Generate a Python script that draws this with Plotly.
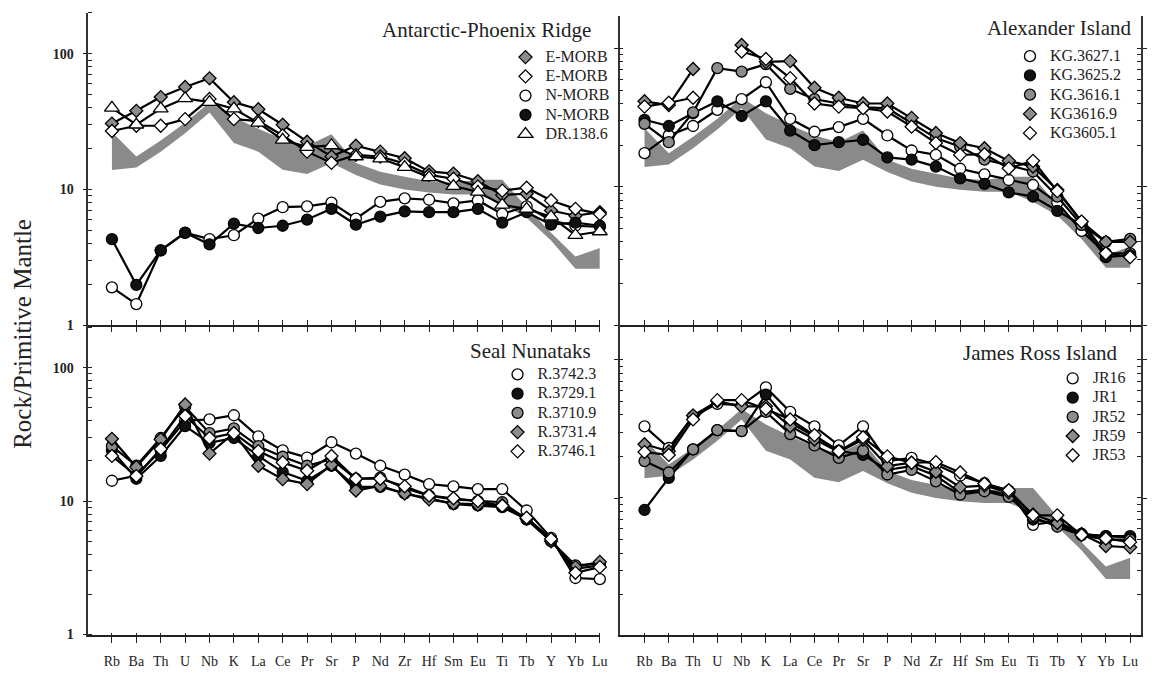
import plotly.graph_objects as go

W, H = 1158, 679

ELEMENTS = ["Rb", "Ba", "Th", "U", "Nb", "K", "La", "Ce", "Pr", "Sr", "P",
            "Nd", "Zr", "Hf", "Sm", "Eu", "Ti", "Tb", "Y", "Yb", "Lu"]
POS = list(range(len(ELEMENTS)))

# Reference field (shaded envelope)
FIELD_UPPER = [26.5, 17.5, 23.0, 31.0, 44.0, 34.0, 28.0, 23.5, 21.0, 25.5, 15.7,
               13.5, 12.4, 11.5, 11.2, 11.8, 11.8, 7.4, 4.8, 3.2, 3.7]
FIELD_LOWER = [13.9, 14.5, 19.0, 26.0, 37.0, 22.0, 19.0, 14.0, 13.0, 15.7, 12.8,
               10.9, 10.0, 9.5, 9.2, 9.2, 7.8, 6.2, 4.2, 2.6, 2.6]

# Antarctic-Phoenix Ridge
APR_EMORB_A = [30.6, 38.0, 48.0, 57.0, 66.0, 44.0, 39.0, 30.0, 22.5, 17.5, 21.0,
               19.0, 17.0, 13.6, 13.1, 11.5, 9.1, 9.3, 7.0, 6.4, 6.8]
APR_EMORB_B = [27.0, 29.5, 29.5, 33.0, 46.5, 33.0, 32.0, 25.0, 19.0, 15.7, 18.0,
               17.5, 15.5, 12.8, 12.0, 10.5, 9.8, 10.3, 8.3, 7.2, 6.6]
APR_NMORB_A = [1.9, 1.43, 3.56, 4.8, 4.3, 4.6, 6.1, 7.4, 7.5, 8.0, 6.1,
               8.1, 8.6, 8.4, 7.9, 8.3, 6.6, 7.5, 5.9, 5.4, 5.3]
APR_NMORB_B = [4.3, 1.98, 3.56, 4.79, 3.94, 5.6, 5.2, 5.4, 6.0, 7.2, 5.5,
               6.3, 6.9, 6.8, 6.8, 7.2, 5.7, 6.8, 5.5, 5.7, 5.4]
APR_DR1386 = [40.0, 30.0, 39.4, 47.0, 44.0, 39.4, 31.0, 23.2, 20.5, 21.1, 17.5,
              16.9, 14.6, 12.3, 10.6, 9.6, 7.7, 7.2, 6.3, 4.6, 4.9]

# Alexander Island
AI_KG36271 = [17.5, 23.5, 27.5, 36.0, 43.0, 57.0, 31.0, 25.0, 27.0, 31.0, 23.5,
              18.3, 17.0, 13.5, 12.3, 11.2, 10.3, 7.7, 4.8, 3.3, 3.3]
AI_KG36252 = [30.5, 27.5, 34.0, 41.5, 32.5, 41.5, 25.5, 20.0, 21.0, 21.8, 16.3,
              15.7, 14.0, 11.5, 10.5, 9.1, 8.5, 6.7, 5.3, 3.1, 3.2]
AI_KG36161 = [28.5, 21.0, 34.5, 72.0, 68.0, 77.0, 51.0, 43.0, 40.0, 37.5, 37.0,
              29.0, 22.5, 19.5, 15.7, 14.3, 12.9, 8.5, 5.3, 4.0, 4.2]
AI_KG36169 = [41.5, 39.0, 71.0, None, 106.0, 80.0, 81.0, 52.0, 44.0, 40.0, 40.0,
              31.5, 24.5, 20.7, 19.0, 15.4, 14.0, 9.5, 5.6, 4.0, 4.0]
AI_KG36051 = [38.0, 40.5, 44.0, None, 95.0, 84.0, 61.0, 40.0, 38.0, 37.0, 35.0,
              27.2, 20.7, 17.0, 17.2, 13.6, 15.4, 9.3, 5.6, 3.3, 3.1]

# Seal Nunataks
SN_R37423 = [14.2, 15.5, 24.0, 40.0, 41.0, 44.0, 30.5, 24.0, 21.2, 27.6, 22.7,
             18.4, 15.8, 13.4, 12.9, 12.3, 12.3, 8.5, 5.3, 2.65, 2.6]
SN_R37291 = [24.0, 14.7, 21.8, 36.5, 27.3, 29.7, 21.8, 16.5, 14.2, 18.4, 12.8,
             12.8, 11.4, 10.5, 9.5, 9.3, 9.0, 7.3, 5.1, 3.1, 3.3]
SN_R37109 = [25.8, 18.4, 29.7, 51.0, 32.3, 35.1, 25.8, 21.5, 18.4, 20.6, 14.7,
             15.0, 12.5, 11.0, 10.3, 10.0, 9.8, 7.3, 5.0, 3.3, 3.4]
SN_R37314 = [29.3, 18.0, 29.0, 53.0, 22.7, 32.3, 18.4, 14.6, 13.4, 18.7, 12.0,
             13.0, 11.4, 10.3, 9.6, 9.4, 9.3, 7.4, 5.0, 3.2, 3.5]
SN_R37461 = [21.8, 15.4, 24.6, 43.4, 29.7, 32.3, 23.7, 19.5, 16.9, 21.8, 14.7,
             14.7, 12.9, 11.0, 10.5, 10.0, 9.2, 7.5, 5.2, 2.9, 3.2]

# James Ross Island
JR16 = [33.0, 23.0, 39.0, 48.0, 47.0, 63.0, 42.0, 33.0, 24.0, 33.0, 18.5,
        19.5, 17.5, 14.5, 12.8, 11.3, 6.4, 6.8, 5.5, 5.3, 5.2]
JR1 = [8.2, 14.0, 22.5, 31.0, 30.5, 56.0, 35.0, 28.0, 22.0, 20.5, 16.0,
       17.0, 14.5, 11.0, 11.5, 10.5, 7.0, 6.5, 5.5, 5.3, 5.3]
JR52 = [18.5, 15.3, 22.5, 31.0, 30.5, 42.0, 29.0, 24.0, 19.5, 22.0, 14.8,
        16.0, 13.2, 10.6, 11.2, 10.2, 7.3, 6.2, 5.4, 5.0, 5.0]
JR59 = [24.5, 21.8, 39.5, 50.0, 46.0, 46.0, 33.0, 26.5, 21.5, 26.5, 17.0,
        18.0, 15.5, 12.0, 12.3, 11.0, 7.6, 6.6, 5.5, 4.5, 4.4]
JR53 = [21.5, 20.5, 37.0, 51.0, 51.0, 44.0, 37.0, 28.5, 21.8, 27.5, 20.0,
        18.0, 18.2, 15.3, 12.7, 11.4, 7.5, 7.5, 5.4, 5.1, 4.8]

FIELD_COLOR = "#8a8a8a"
GREY = "#8c8c8c"
SERIF = "Liberation Serif"

STYLE = {
    "open_circle": dict(symbol="circle", color="white", size=11),
    "black_circle": dict(symbol="circle", color="#111111", size=11),
    "grey_circle": dict(symbol="circle", color=GREY, size=11),
    "grey_diamond": dict(symbol="diamond", color=GREY, size=10),
    "white_diamond": dict(symbol="diamond", color="white", size=10),
    "open_triangle": dict(symbol="triangle-up", color="white", size=13),
}

# Pixel geometry of each panel: left, right, top, bottom, x-range, log y-range
PANELS = [
    dict(title="Antarctic-Phoenix Ridge", field=True,
         box=(89, 604, 13, 329), xr=(-0.965, 20.0), yr=(0.0, 2.302),
         title_at=(597, 30), legend_at=(528, 56), bottom=False, left=True,
         series=[("E-MORB", APR_EMORB_A, "grey_diamond"),
                 ("E-MORB", APR_EMORB_B, "white_diamond"),
                 ("N-MORB", APR_NMORB_A, "open_circle"),
                 ("N-MORB", APR_NMORB_B, "black_circle"),
                 ("DR.138.6", APR_DR1386, "open_triangle")]),
    dict(title="Alexander Island", field=True,
         box=(624, 1149, 16, 329), xr=(-1.022, 20.45), yr=(0.0, 2.236),
         title_at=(1142, 28), legend_at=(1036, 55), bottom=False, left=False,
         series=[("KG.3627.1", AI_KG36271, "open_circle"),
                 ("KG.3625.2", AI_KG36252, "black_circle"),
                 ("KG.3616.1", AI_KG36161, "grey_circle"),
                 ("KG3616.9", AI_KG36169, "grey_diamond"),
                 ("KG3605.1", AI_KG36051, "white_diamond")]),
    dict(title="Seal Nunataks", field=False,
         box=(89, 604, 329, 643), xr=(-0.965, 20.0), yr=(-0.007, 2.319),
         title_at=(597, 355), legend_at=(520, 377), bottom=True, left=True,
         series=[("R.3742.3", SN_R37423, "open_circle"),
                 ("R.3729.1", SN_R37291, "black_circle"),
                 ("R.3710.9", SN_R37109, "grey_circle"),
                 ("R.3731.4", SN_R37314, "grey_diamond"),
                 ("R.3746.1", SN_R37461, "white_diamond")]),
    dict(title="James Ross Island", field=True,
         box=(624, 1149, 329, 643), xr=(-1.022, 20.45), yr=(0.007, 2.25),
         title_at=(1127, 357), legend_at=(1079, 381), bottom=True, left=False,
         series=[("JR16", JR16, "open_circle"),
                 ("JR1", JR1, "black_circle"),
                 ("JR52", JR52, "grey_circle"),
                 ("JR59", JR59, "grey_diamond"),
                 ("JR53", JR53, "white_diamond")]),
]

Y_MAJOR = [1, 10, 100]
# minor ticks inside the frame; the near-major ones make the decade ticks cross the line
Y_MINOR = [v * 1.001 for v in Y_MAJOR] + [m * 10 ** e for e in range(3) for m in range(2, 10)]
X_MINOR = [p + 0.002 for p in POS]

# legend rows are spaced by the (small) legend font; the label itself is drawn larger
LEGEND_ROW_FONT = 12.5
LEGEND_TEXT_PX = 16


def fx(p):
    return p / W


def fy(p):
    return 1 - p / H


fig = go.Figure()
layout = dict(
    width=W, height=H, margin=dict(l=0, r=0, t=0, b=0),
    paper_bgcolor="white", plot_bgcolor="white", showlegend=True,
    annotations=[], hovermode=False,
)

for k, pan in enumerate(PANELS, start=1):
    sfx = "" if k == 1 else str(k)
    xa, ya = "x" + sfx, "y" + sfx
    leg = "legend" + sfx
    left, right, top, bottom = pan["box"]

    if pan["field"]:
        fig.add_trace(go.Scatter(
            x=POS + POS[::-1], y=FIELD_UPPER + FIELD_LOWER[::-1],
            mode="lines", fill="toself", fillcolor=FIELD_COLOR,
            line=dict(width=0, color=FIELD_COLOR), showlegend=False,
            hoverinfo="skip", xaxis=xa, yaxis=ya))

    for name, vals, sty in pan["series"]:
        st = STYLE[sty]
        fig.add_trace(go.Scatter(
            x=POS, y=vals, mode="lines+markers", connectgaps=False,
            line=dict(color="black", width=2.2),
            marker=dict(symbol=st["symbol"], size=st["size"], color=st["color"],
                        line=dict(color="black", width=1.3)),
            cliponaxis=False, showlegend=False, xaxis=xa, yaxis=ya))

    for name, vals, sty in pan["series"]:
        st = STYLE[sty]
        fig.add_trace(go.Scatter(
            x=[None], y=[None], mode="markers",
            name=f"<span style='font-size:{LEGEND_TEXT_PX}px'>{name}</span>",
            legend=leg,
            marker=dict(symbol=st["symbol"], size=st["size"], color=st["color"],
                        line=dict(color="black", width=1.3)),
            xaxis=xa, yaxis=ya))

    layout["xaxis" + sfx] = dict(
        domain=[fx(left), fx(right)], range=list(pan["xr"]), anchor=ya,
        showline=True, linecolor="#222", linewidth=1.5, showgrid=False,
        zeroline=False, tickmode="array", tickvals=POS, ticktext=ELEMENTS,
        ticks="outside", ticklen=6 if pan["bottom"] else 5, tickwidth=1,
        tickcolor="#222", showticklabels=pan["bottom"], ticklabelstandoff=6,
        tickfont=dict(family=SERIF, size=14, color="#222"),
        minor=dict(tickmode="array", tickvals=X_MINOR, ticks="inside",
                   ticklen=3 if pan["bottom"] else 5, tickwidth=1, tickcolor="#222"),
    )
    layout["yaxis" + sfx] = dict(
        domain=[fy(bottom), fy(top)], type="log", range=list(pan["yr"]), anchor=xa,
        showline=True, linecolor="#333", linewidth=1.5, showgrid=False,
        zeroline=False, tickmode="array", tickvals=Y_MAJOR,
        ticktext=[str(v) for v in Y_MAJOR], ticks="outside", ticklen=4,
        tickwidth=1, tickcolor="#222", showticklabels=pan["left"],
        mirror=False if pan["left"] else "ticks", ticklabelstandoff=6,
        tickfont=dict(family=SERIF, size=14, color="#222", weight="bold"),
        minor=dict(tickmode="array", tickvals=Y_MINOR, ticks="inside",
                   ticklen=4, tickwidth=1, tickcolor="#222"),
    )

    lx, ly = pan["legend_at"]
    layout[leg] = dict(
        x=fx(lx - 19), y=fy(ly - 13), xanchor="left", yanchor="top",
        bgcolor="rgba(0,0,0,0)", borderwidth=0, itemwidth=30,
        tracegroupgap=0, traceorder="normal",
        font=dict(family=SERIF, size=LEGEND_ROW_FONT, color="#222"),
        itemclick=False, itemdoubleclick=False,
    )

    tx, ty = pan["title_at"]
    layout["annotations"].append(dict(
        text=pan["title"], x=fx(tx), y=fy(ty), xref="paper", yref="paper",
        xanchor="right", yanchor="middle", showarrow=False,
        font=dict(family=SERIF, size=21, color="#222")))

layout["annotations"].append(dict(
    text="Rock/Primitive Mantle", x=fx(22), y=fy(338), xref="paper", yref="paper",
    xanchor="center", yanchor="middle", showarrow=False, textangle=-90,
    font=dict(family=SERIF, size=25, color="#222")))

fig.update_layout(**layout)
fig.write_html("out.html")
